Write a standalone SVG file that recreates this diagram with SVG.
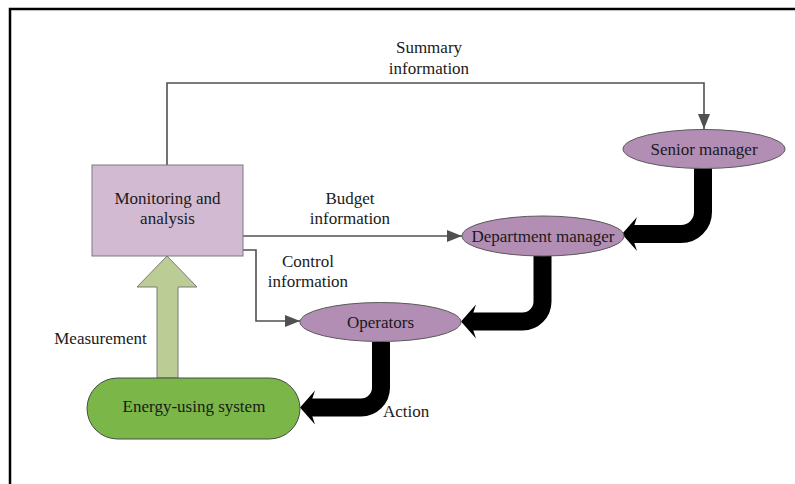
<svg xmlns="http://www.w3.org/2000/svg" width="795" height="484" viewBox="0 0 795 484">
  <style>
    .lbl { font-family: "Liberation Serif", "Times New Roman", serif; font-size: 17px; fill: #1a1a1a; text-anchor: middle; }
    .thin { fill: none; stroke: #505050; stroke-width: 1.6; }
    .fat { fill: none; stroke: #000; stroke-width: 18; }
    .role { fill: #b28db4; stroke: #5a5a5a; stroke-width: 1; }
  </style>
  <defs>
    <marker id="tip" markerUnits="userSpaceOnUse" markerWidth="16" markerHeight="12" refX="15" refY="6" orient="auto">
      <path d="M0,0 L15,6 L0,12 Z" fill="#505050"/>
    </marker>
    <!-- swept-back head of the heavy flow arrows, tip at origin, pointing left -->
    <path id="fathead" d="M0,0 L15,-17 L12,-8 L12,8 L15,17 Z" fill="#000"/>
  </defs>

  <rect width="795" height="484" fill="#fff"/>

  <!-- outer frame (top and left edges) -->
  <path d="M10,484 V9 H795" fill="none" stroke="#000" stroke-width="2.5"/>

  <g id="connectors">
    <path class="thin" d="M167,165 V83 H704 V129" marker-end="url(#tip)"/>
    <path class="thin" d="M243,236 H462" marker-end="url(#tip)"/>
    <path class="thin" d="M243,250 H256 V321 H300" marker-end="url(#tip)"/>

    <!-- measurement block arrow -->
    <polygon points="167,256 197,287 178,287 178,378 157,378 157,287 137,287" fill="#bbcc94" stroke="#7a7a7a" stroke-width="1"/>

    <!-- heavy command / action arrows -->
    <path class="fat" d="M703,168 V212 A22,22 0 0 1 681,234 H634"/>
    <use href="#fathead" x="622" y="234"/>
    <path class="fat" d="M542.5,256 V301.5 A20,20 0 0 1 522.5,321.5 H473"/>
    <use href="#fathead" x="461" y="321.5"/>
    <path class="fat" d="M381,342 V387.5 A20,20 0 0 1 361,407.5 H312"/>
    <use href="#fathead" x="300" y="407.5"/>
  </g>

  <g id="edge-labels">
    <text class="lbl" x="429" y="53">Summary</text>
    <text class="lbl" x="429" y="74">information</text>
    <text class="lbl" x="350" y="204">Budget</text>
    <text class="lbl" x="350" y="224">information</text>
    <text class="lbl" x="308" y="267">Control</text>
    <text class="lbl" x="308" y="287">information</text>
    <text class="lbl" x="100.5" y="344">Measurement</text>
    <text class="lbl" x="383" y="417" style="text-anchor:start">Action</text>
  </g>

  <g id="monitoring">
    <rect x="92" y="165" width="151" height="91" fill="#d2bad3" stroke="#7a7a7a" stroke-width="1"/>
    <text class="lbl" x="167.5" y="204">Monitoring and</text>
    <text class="lbl" x="167.5" y="224">analysis</text>
  </g>

  <g id="senior-manager">
    <ellipse class="role" cx="704" cy="149" rx="81" ry="19.5"/>
    <text class="lbl" x="704" y="155">Senior manager</text>
  </g>

  <g id="department-manager">
    <ellipse class="role" cx="543" cy="236" rx="81" ry="20"/>
    <text class="lbl" x="543" y="242">Department manager</text>
  </g>

  <g id="operators">
    <ellipse class="role" cx="380.5" cy="322" rx="80.5" ry="19.5"/>
    <text class="lbl" x="380.5" y="328">Operators</text>
  </g>

  <g id="energy-system">
    <rect x="87" y="378" width="213" height="61" rx="30.5" ry="30.5" fill="#7ab648" stroke="#4a4a4a" stroke-width="1"/>
    <text class="lbl" x="194" y="412">Energy-using system</text>
  </g>
</svg>
